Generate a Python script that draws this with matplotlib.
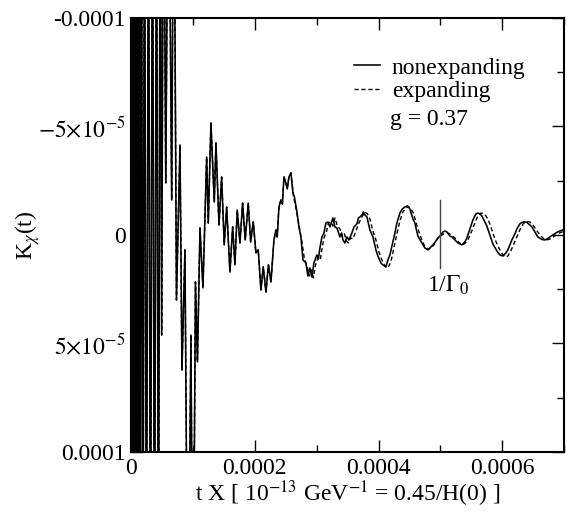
import numpy as np
import matplotlib
matplotlib.use("Agg")
import matplotlib.pyplot as plt
from matplotlib.ticker import FixedLocator, FixedFormatter

# ---------------- data (t in units of 1e-4, K in units of 1e-5) ----------------
t_early = [0.000, 0.010, 0.019, 0.029, 0.039, 0.048, 0.060, 0.071, 0.082, 0.095,
           0.108, 0.121, 0.136, 0.150, 0.170, 0.194, 0.218, 0.250, 0.283, 0.315,
           0.347, 0.380, 0.412, 0.444, 0.472, 0.496, 0.525, 0.562, 0.606, 0.658,
           0.691, 0.735, 0.792, 0.824, 0.872, 0.921, 0.969, 1.002, 1.042, 1.074,
           1.115, 1.163, 1.223, 1.249, 1.292, 1.346, 1.373, 1.422, 1.465, 1.507,
           1.546, 1.599, 1.643, 1.680, 1.717, 1.761, 1.804, 1.846, 1.895, 1.934,
           1.976, 2.019, 2.056, 2.100, 2.137, 2.181, 2.221, 2.262, 2.310, 2.342,
           2.363, 2.391, 2.423, 2.447, 2.472, 2.504, 2.525, 2.552, 2.585]
k_early = [-20, 20, -20, 20, -20, 20, -20, 20, -20, 20,
           -20, 20, -20, 20, -20, 20, -20, 20, -20, 20,
           -20, 20, -20, 20, -20, 4.61, -20, -2.40, -20, -1.61,
           -20, 3.00, -4.15, 6.22, 0.69, 20, 4.61, 20, 2.17, 5.85,
           -0.32, 2.44, -3.59, -0.55, -5.16, -1.52, -4.24, -0.46, -2.67, 0.46,
           -1.29, 1.71, -0.37, 1.38, -1.15, 0.37, -1.47, 0.23, -1.47, 0.32,
           -0.60, 0.83, 0.69, 2.53, 1.47, 2.63, 1.38, 2.17, 0.23, -0.23,
           0.09, -1.29, -1.61, -1.43, -2.67, -2.40, -2.12, -2.67, -2.86]

t_nonexp_tail = [2.617, 2.641, 2.682, 2.714, 2.746, 2.779, 2.827, 2.859, 2.892, 2.924,
                 2.956, 3.005, 3.029, 3.053, 3.086, 3.118, 3.150, 3.183, 3.215, 3.263,
                 3.296, 3.328, 3.376, 3.404, 3.425, 3.457, 3.489, 3.522, 3.570, 3.603,
                 3.651, 3.675, 3.699, 3.732, 3.756, 3.780, 3.813, 3.861, 3.910, 3.958,
                 3.990, 4.039, 4.071, 4.120, 4.152, 4.184, 4.233, 4.265, 4.297, 4.346,
                 4.386, 4.426, 4.467, 4.507, 4.556, 4.588, 4.636, 4.701, 4.750, 4.798,
                 4.830, 4.879, 4.927, 4.960, 4.992, 5.040, 5.073, 5.105, 5.153, 5.186,
                 5.234, 5.283, 5.347, 5.396, 5.428, 5.477, 5.525, 5.573, 5.606, 5.638,
                 5.670, 5.719, 5.751, 5.800, 5.848, 5.913, 5.961, 6.010, 6.058, 6.090,
                 6.155, 6.204, 6.236, 6.284, 6.317, 6.365, 6.397, 6.446, 6.478, 6.527,
                 6.575, 6.640, 6.688, 6.737, 6.769, 6.817, 6.882, 6.930, 6.995, 7.05]
k_nonexp_tail = [-1.94, -1.75, -1.06, -0.37, 0.09, 1.15, 1.29, 1.89, 1.52, 1.94,
                 1.29, 0.92, 1.11, 0.60, 0.09, -0.09, -0.55, -0.60, -0.37, -0.78,
                 -0.37, -0.32, 0.09, -0.09, 0.23, 0.37, 0.09, 0.23, -0.09, -0.37,
                 -0.51, -0.78, -0.83, -0.92, -1.06, -0.92, -0.83, -0.23, 0.09, 0.69,
                 0.97, 1.29, 1.38, 1.47, 1.15, 0.92, 0.32, -0.09, -0.55, -1.01,
                 -1.20, -1.29, -1.34, -1.20, -0.74, -0.55, 0.05, 0.37, 0.60, 0.69,
                 0.60, 0.46, 0.28, 0.14, 0.05, -0.14, -0.18, -0.14, 0.05, 0.09,
                 0.23, 0.37, 0.46, 0.32, 0.14, -0.28, -0.69, -0.97, -1.01, -0.97,
                 -0.88, -0.60, -0.41, 0.00, 0.41, 0.74, 0.92, 0.97, 0.83, 0.69,
                 0.23, -0.05, -0.28, -0.51, -0.58, -0.60, -0.58, -0.46, -0.37, -0.14,
                 0.09, 0.21, 0.23, 0.16, 0.09, 0.00, -0.12, -0.18, -0.25, -0.28]

t_exp_tail = [2.625, 2.666, 2.722, 2.763, 2.803, 2.843, 2.884, 2.916, 2.948, 2.981,
              3.029, 3.061, 3.086, 3.118, 3.158, 3.191, 3.231, 3.263, 3.296, 3.336,
              3.376, 3.417, 3.449, 3.481, 3.513, 3.546, 3.586, 3.635, 3.683, 3.732,
              3.780, 3.821, 3.861, 3.910, 3.958, 4.006, 4.055, 4.103, 4.152, 4.200,
              4.241, 4.297, 4.346, 4.394, 4.443, 4.483, 4.523, 4.564, 4.604, 4.653,
              4.701, 4.750, 4.798, 4.847, 4.895, 4.960, 5.024, 5.073, 5.121, 5.186,
              5.234, 5.291, 5.347, 5.396, 5.444, 5.501, 5.557, 5.606, 5.654, 5.695,
              5.735, 5.775, 5.816, 5.864, 5.913, 5.961, 6.010, 6.050, 6.090, 6.131,
              6.187, 6.236, 6.292, 6.341, 6.397, 6.446, 6.494, 6.551, 6.607, 6.664,
              6.720, 6.777, 6.834, 6.898, 6.947, 6.995, 7.05]
k_exp_tail = [-1.80, -1.24, -0.32, 0.32, 1.11, 1.43, 1.89, 1.61, 1.98, 1.38,
              1.01, 1.11, 0.65, 0.14, -0.14, -0.55, -0.60, -0.41, -0.78, -0.41,
              -0.28, 0.09, -0.05, 0.28, 0.37, 0.14, 0.18, -0.18, -0.55, -0.83,
              -1.06, -0.97, -0.74, -0.18, 0.23, 0.78, 1.15, 1.43, 1.52, 1.24,
              0.69, -0.05, -0.65, -1.06, -1.24, -1.31, -1.20, -1.01, -0.60, -0.14,
              0.23, 0.55, 0.65, 0.62, 0.46, 0.14, 0.00, -0.09, -0.09, 0.02,
              0.14, 0.32, 0.46, 0.39, 0.23, -0.14, -0.55, -0.88, -1.01, -0.99,
              -0.88, -0.69, -0.37, 0.05, 0.41, 0.69, 0.92, 1.01, 0.97, 0.78,
              0.41, 0.09, -0.28, -0.53, -0.62, -0.60, -0.46, -0.23, 0.00, 0.16,
              0.23, 0.18, 0.07, -0.05, -0.12, -0.16, -0.18]

T_UNIT = 1e-4
K_UNIT = 1e-5

series_labels = ["nonexpanding", "expanding"]
x_ticks = [0.0, 0.0002, 0.0004, 0.0006]
x_tick_labels = ["0", "0.0002", "0.0004", "0.0006"]
x_minor = [0.0001, 0.0003, 0.0005, 0.0007]
y_ticks = [-1e-4, -5e-5, 0.0, 5e-5, 1e-4]
y_tick_labels = ["-0.0001", r"$-5{\times}10^{-5}$", "0", r"$5{\times}10^{-5}$", "0.0001"]
y_minor = [-7.5e-5, -2.5e-5, 2.5e-5, 7.5e-5]
gamma_t = 0.0005
gamma_k = (-1.6e-5, 1.5e-5)
g_text = "g = 0.37"

# ---------------- build series ----------------
t_nonexp = np.array(t_early + t_nonexp_tail) * T_UNIT
k_nonexp = np.array(k_early + k_nonexp_tail) * K_UNIT
t_exp = np.array(t_early + t_exp_tail) * T_UNIT
k_exp = np.array(k_early + k_exp_tail) * K_UNIT

plt.rcParams['font.family'] = ['Liberation Serif', 'DejaVu Serif']
plt.rcParams['mathtext.fontset'] = 'stix'
FS = 17

fig = plt.figure(figsize=(5.67, 5.13), dpi=100)
ax = fig.add_axes([0.231, 0.119, 0.764, 0.846])

ax.plot(t_nonexp, k_nonexp, color='black', lw=1.15, label=series_labels[0])
ax.plot(t_exp, k_exp, color='black', lw=1.0, linestyle=(0, (3, 2)), label=series_labels[1])

ax.set_xlim(0, 0.0007)
ax.set_ylim(1e-4, -1e-4)

ax.xaxis.set_major_locator(FixedLocator(x_ticks))
ax.xaxis.set_major_formatter(FixedFormatter(x_tick_labels))
ax.xaxis.set_minor_locator(FixedLocator(x_minor))
ax.yaxis.set_major_locator(FixedLocator(y_ticks))
ax.yaxis.set_major_formatter(FixedFormatter(y_tick_labels))
ax.yaxis.set_minor_locator(FixedLocator(y_minor))

ax.tick_params(which='both', direction='in', top=True, right=True, labelsize=FS)
ax.tick_params(which='major', length=8.6, width=1.0, pad=4)
ax.tick_params(which='minor', length=5, width=1.0)
for s in ax.spines.values():
    s.set_linewidth(1.5)

ax.set_xlabel(r"t X [ 10$^{-13}$ GeV$^{-1}$ = 0.45/H(0) ]", fontsize=FS)
ax.xaxis.set_label_coords(0.5, -0.096)
ax.xaxis.label.set_va('center')
ax.set_ylabel(r"K$_\chi$(t)", fontsize=FS)
ax.yaxis.set_label_coords(-0.238, 0.5)
ax.yaxis.label.set_va('center')

# marker for 1/Gamma_0
ax.plot([gamma_t, gamma_t], list(gamma_k), color='#444444', lw=1.0)
ax.text(4.78e-4, 2.63e-5, r"1/$\Gamma_0$", fontsize=FS, va='baseline', ha='left')

leg = ax.legend(loc='upper left', bbox_to_anchor=(0.515, 0.91), frameon=False,
                fontsize=FS, handlelength=1.1, handletextpad=0.5,
                labelspacing=0.1, borderpad=0, borderaxespad=0)
ax.text(0.598, 0.765, g_text, transform=ax.transAxes, fontsize=FS, va='center', ha='left')

fig.savefig("out.png", dpi=100)
